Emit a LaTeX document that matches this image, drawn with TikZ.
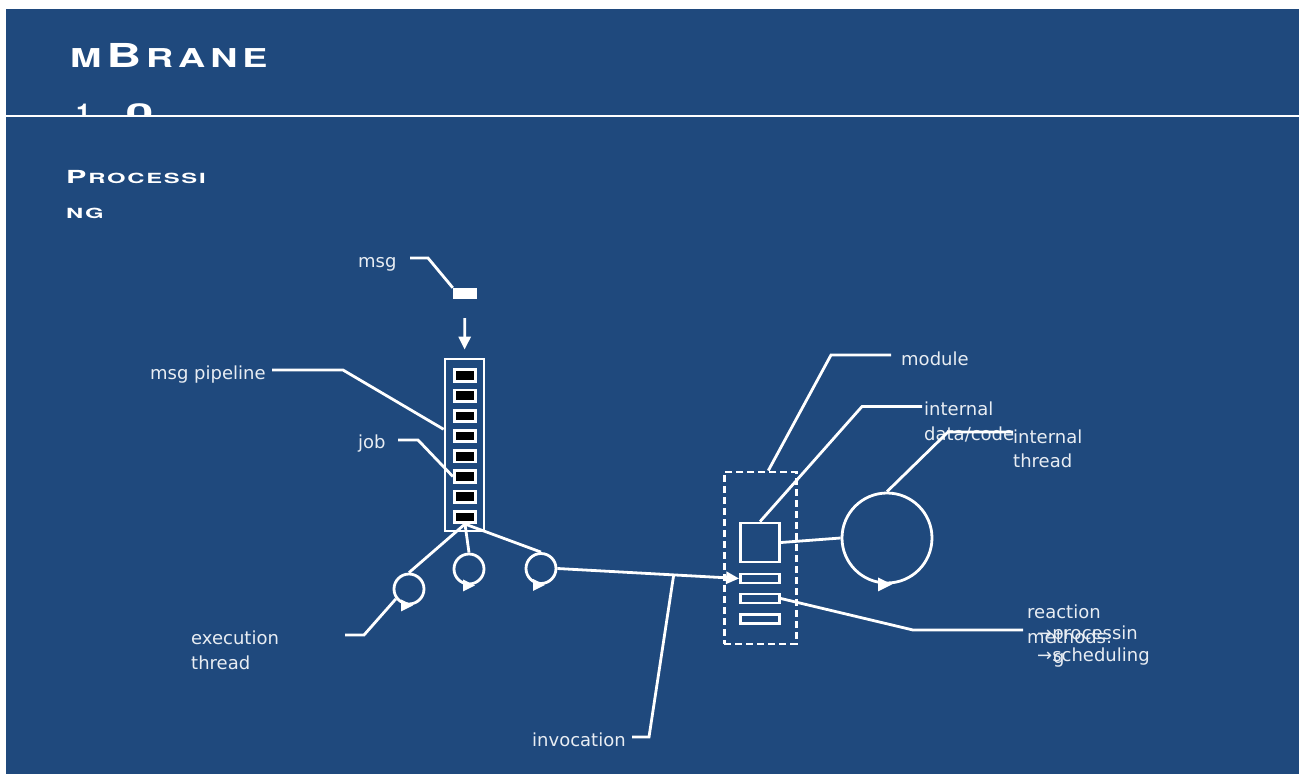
\documentclass[tikz,border=0pt]{standalone}
\usepackage{fontspec}
\setmainfont{DejaVu Sans}
\newfontfamily\heros{TeX Gyre Heros}
\usetikzlibrary{arrows.meta,calc}
\definecolor{bg}{RGB}{31,73,125}
\definecolor{txt}{RGB}{232,237,243}
\begin{document}
\begin{tikzpicture}[x=1pt,y=-1pt,
  lbl/.style={anchor=base west,inner sep=0pt,text=txt,font=\fontsize{18}{18}\selectfont},
  ln/.style={draw=white,line width=2.8pt},
  jobbox/.style={draw=white,fill=black,line width=2.8pt,minimum width=21.5pt,minimum height=11.5pt,inner sep=0pt},
  box/.style={draw=white,line width=2.8pt,inner sep=0pt},
  circ/.style={circle,draw=white,line width=2.8pt,minimum size=30pt,inner sep=0pt},
  tri/.style={fill=white},
  arr/.style={-{Triangle[length=13pt,width=12pt]}}]
\useasboundingbox (0,0) rectangle (1299,774);
\fill[white] (0,0) rectangle (1299,774);
\fill[bg] (6,9) rectangle (1299,774);
% title
\node[anchor=base west,inner sep=0pt,text=white] (title) at (70,67)
  {\heros\bfseries\scalebox{1.45}[1]{\fontsize{26}{26}\selectfont M\kern3.4pt{\fontsize{33}{33}\selectfont B}\kern3.4pt R\kern3.4pt A\kern3.4pt N\kern3.4pt E}};
\begin{scope}
\clip (6,9) rectangle (1299,114.5);
\node[anchor=base west,inner sep=0pt,text=white] (ver) at (76,122)
  {\heros\bfseries\fontsize{26}{26}\selectfont 1\kern14pt.\kern14pt\scalebox{1.9}[1]{0}};
\end{scope}
\draw[white,line width=2pt] (6,115.5) -- (1299,115.5);
\node[anchor=base west,inner sep=0pt,text=white] (sub1) at (66,183)
  {\heros\bfseries\scalebox{1.7}[1]{\fontsize{18}{18}\selectfont P\kern1pt\fontsize{14}{14}\selectfont R\kern1pt O\kern1pt C\kern1pt E\kern1pt S\kern1pt S\kern1pt I}};
\node[anchor=base west,inner sep=0pt,text=white] (sub2) at (66,218)
  {\heros\bfseries\scalebox{1.7}[1]{\fontsize{14}{14}\selectfont N\kern1pt G}};
% msg and pipeline
\node[fill=white,minimum width=24pt,minimum height=11pt,inner sep=0pt] (msg) at (465,293.5) {};
\node[box,minimum width=39pt,minimum height=172pt] (pipe) at (464.5,445) {};
\foreach \i in {1,...,8} \node[jobbox] (j\i) at (465,{375.5+20.2*(\i-1)}) {};
\draw[ln,arr,shorten <=19pt,shorten >=8pt] (msg.south) -- (pipe.north);
% execution threads
\node[circ] (c1) at (409,589) {};
\node[circ] (c2) at (469,569) {};
\node[circ] (c3) at (541,568.5) {};
\fill[tri] ($(c1.south)+(-8,-6)$) -- ++(12,6) -- ++(-12,6) -- cycle;
\fill[tri] ($(c2.south)+(-6,-6)$) -- ++(12,6) -- ++(-12,6) -- cycle;
\fill[tri] ($(c3.south)+(-8,-6)$) -- ++(12,6) -- ++(-12,6) -- cycle;
\draw[ln] (j8.south) -- (c1.north);
\draw[ln] (j8.south) -- (c2.north);
\draw[ln] (j8.south) -- (c3.north);
% module
\node[draw=white,dashed,dash pattern=on 7pt off 4pt,line width=2.8pt,minimum width=72pt,minimum height=172pt,inner sep=0pt] (mod) at (760.3,558) {};
\node[box,minimum width=39pt,minimum height=39pt] (dat) at (760,542.5) {};
\node[box,minimum width=39pt,minimum height=9pt] (m1) at (760,578.5) {};
\node[box,minimum width=39pt,minimum height=9pt] (m2) at (760,598.5) {};
\node[box,minimum width=39pt,minimum height=9pt] (m3) at (760,619) {};
\node[circ,minimum size=90pt] (ith) at (887,538) {};
\fill[tri] ($(ith.south)+(-9,-7)$) -- ++(14,7) -- ++(-14,7) -- cycle;
\draw[ln] (dat.east) -- (ith.west);
\draw[ln,-{Triangle[length=13pt,width=12pt]}] (c3.east) -- (m1.west);
% labels
\node[lbl] (lmsg) at (358,267) {msg};
\node[lbl] (lpipe) at (150,379) {msg pipeline};
\node[lbl] (ljob) at (358,448) {job};
\node[lbl] (lexec1) at (191,644) {execution};
\node[lbl] (lexec2) at (191,669) {thread};
\node[lbl] (linv) at (532,746) {invocation};
\node[lbl] (lmod) at (901,365) {module};
\node[lbl] (ldat1) at (924,415) {internal};
\node[lbl] (ldat2) at (924,440) {data/code};
\node[lbl] (lth1) at (1013,443) {internal};
\node[lbl] (lth2) at (1013,467) {thread};
\node[lbl] (lre1) at (1027,618) {reaction};
\node[lbl] (lre2) at (1027,643) {methods:};
\node[lbl] (lp1) at (1037,639) {→processin};
\node[lbl] (lp2) at (1053,663) {g};
\node[lbl] (lsch) at (1037,661) {→scheduling};
% leaders
\coordinate (kmsg) at (410,258);
\draw[ln] (kmsg) -- ++(18,0) -- (msg.north west);
\coordinate (kpipe) at (272,370);
\draw[ln] (kpipe) -- ++(71,0) -- ($(pipe.north west)!0.41!(pipe.south west)$);
\coordinate (kjob) at (398,440);
\draw[ln] (kjob) -- ++(20,0) -- (j6.west);
\coordinate (kexec) at (345,635);
\draw[ln] (kexec) -- ++(19,0) -- (c1.217);
\coordinate (kinv) at (632,737);
\draw[ln] (kinv) -- ++(17,0) -- ($(c3.east)!0.64!(m1.west)$);
\coordinate (kmod) at (891,355);
\draw[ln] (kmod) -- ++(-60,0) -- ($(mod.north)+(8,0)$);
\coordinate (kdat) at (922,406.5);
\draw[ln] (kdat) -- ++(-60,0) -- (dat.north);
\coordinate (kth) at (1013,432);
\draw[ln] (kth) -- ++(-65,0) -- (ith.north);
\coordinate (kre) at (1023,630);
\draw[ln] (kre) -- ++(-110,0) -- (m2.east);
\end{tikzpicture}
\end{document}
